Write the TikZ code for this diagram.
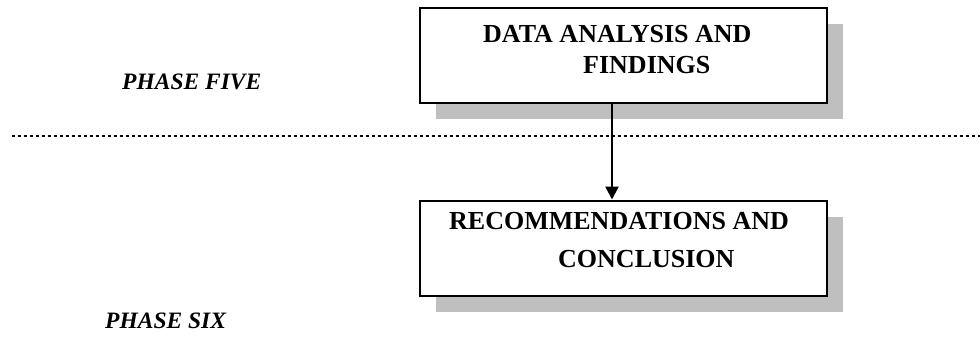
\documentclass[tikz,border=0pt]{standalone}
\usepackage{fontspec}
\setmainfont{Liberation Serif}
\usetikzlibrary{arrows.meta,shadows}
\tikzset{
  phasebox/.style={draw, line width=2pt, fill=white, minimum width=407pt, minimum height=95pt, inner sep=0pt,
    drop shadow={shadow xshift=16pt, shadow yshift=-16pt, fill=black!25, opacity=1}},
  boxtext/.style={anchor=base west, inner sep=0pt, font=\fontsize{26}{30}\selectfont\bfseries},
  phasetext/.style={anchor=base west, inner sep=0pt, font=\fontsize{23.5}{28}\selectfont\bfseries\itshape},
  sepline/.style={line width=2.5pt, dash pattern=on 2.5pt off 3.5pt},
  flowarrow/.style={line width=2.6pt, -{Triangle[length=13pt,width=13pt]}}
}
\begin{document}
\begin{tikzpicture}[x=1pt,y=-1pt]
\useasboundingbox (0,0) rectangle (980,337);
% separator
\coordinate (dl) at (12,136);
\coordinate (dr) at (980,136);
\draw[sepline] (dl) -- (dr);
% boxes
\node[phasebox] (b1) at (623.5,55.75) {};
\node[phasebox] (b2) at (623.5,248) {};
% box texts
\node[boxtext] (t1a) at (483,42.5) {DATA ANALYSIS AND};
\node[boxtext] (t1b) at (583,73.5) {FINDINGS};
\node[boxtext] (t2a) at (449,229.5) {RECOMMENDATIONS AND};
\node[boxtext] (t2b) at (558,267) {CONCLUSION};
% phase labels
\node[phasetext] (p5) at (122,89) {PHASE FIVE};
\node[phasetext] (p6) at (105,328) {PHASE SIX};
% arrow
\coordinate (ax) at (612,0);
\draw[flowarrow] (b1.south -| ax) -- (b2.north -| ax);
\end{tikzpicture}
\end{document}
